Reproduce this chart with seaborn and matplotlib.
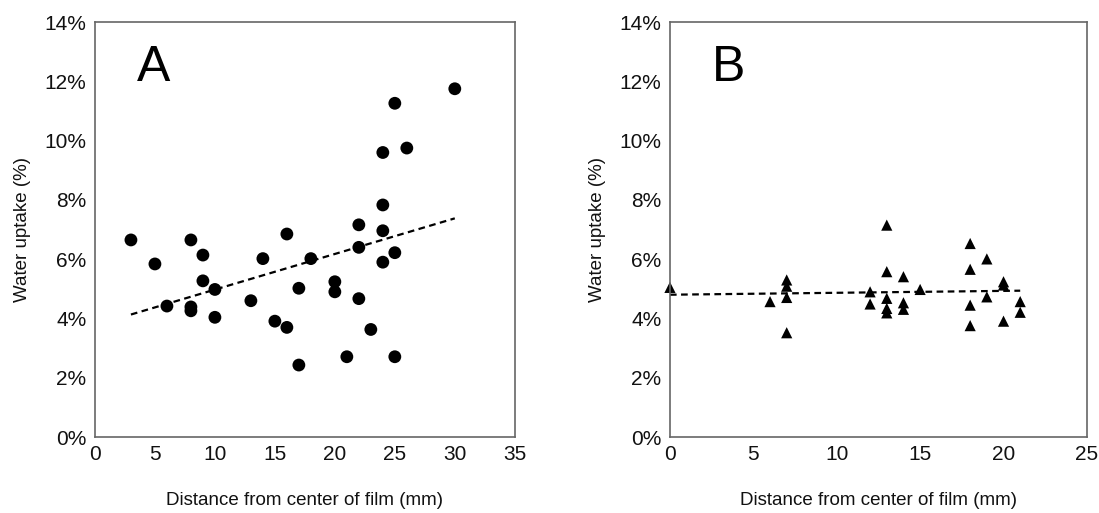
import numpy as np
import pandas as pd
import seaborn as sns
import matplotlib.pyplot as plt
from matplotlib.ticker import FuncFormatter

# Panel A: distance (mm) vs water uptake (%)
dist_a = [3, 5, 6, 8, 8, 8, 9, 9, 10, 10, 13, 14, 15, 16, 16, 17, 17, 18,
          20, 20, 21, 22, 22, 22, 23, 24, 24, 24, 24, 25, 25, 25, 26, 30]
uptake_a = [6.65, 5.84, 4.42, 6.65, 4.39, 4.26, 6.14, 5.27, 4.98, 4.04,
            4.60, 6.02, 3.91, 6.85, 3.70, 5.02, 2.43, 6.02,
            5.24, 4.90, 2.71, 7.16, 6.40, 4.67, 3.63, 9.60, 7.83, 6.96, 5.90,
            11.26, 6.22, 2.71, 9.75, 11.75]

# Panel B
dist_b = [0, 6, 7, 7, 7, 7, 12, 12, 13, 13, 13, 13, 13, 14, 14, 14, 15,
          18, 18, 18, 18, 19, 19, 20, 20, 20, 21, 21]
uptake_b = [5.05, 4.57, 5.30, 5.09, 4.71, 3.52, 4.90, 4.49, 7.15, 5.58,
            4.68, 4.34, 4.19, 5.41, 4.53, 4.31, 4.98,
            6.53, 5.66, 4.45, 3.76, 6.01, 4.73, 5.24, 5.13, 3.91, 4.57, 4.21]

df_a = pd.DataFrame({"dist": dist_a, "uptake": uptake_a})
df_b = pd.DataFrame({"dist": dist_b, "uptake": uptake_b})

sns.set_style("white")
plt.rcParams['font.family'] = ['Liberation Sans', 'DejaVu Sans']

fig = plt.figure(figsize=(10.99, 5.13), dpi=100)
ax_a = fig.add_axes([0.0864, 0.148, 0.382, 0.809])
ax_b = fig.add_axes([0.6096, 0.148, 0.3794, 0.809])

line_kws = dict(color="black", lw=1.6, ls=(0, (3, 2)))

sns.regplot(data=df_a, x="dist", y="uptake", ax=ax_a, ci=None,
            marker="o", color="black",
            scatter_kws=dict(s=85, edgecolor="none", alpha=1),
            line_kws=line_kws)
sns.regplot(data=df_b, x="dist", y="uptake", ax=ax_b, ci=None,
            marker="^", color="black",
            scatter_kws=dict(s=65, edgecolor="none", alpha=1, clip_on=False),
            line_kws=line_kws)

pct = FuncFormatter(lambda v, p: f"{v:.0f}%")
for ax, xmax, letter in [(ax_a, 35, "A"), (ax_b, 25, "B")]:
    ax.set_xlim(0, xmax)
    ax.set_ylim(0, 14)
    ax.set_xticks(range(0, xmax + 1, 5))
    ax.set_yticks(range(0, 15, 2))
    ax.yaxis.set_major_formatter(pct)
    ax.tick_params(length=0, labelsize=15, colors="#111111", pad=6)
    ax.set_xlabel("Distance from center of film (mm)", fontsize=13.5,
                  labelpad=20, color="#111111")
    ax.set_ylabel("Water uptake (%)", fontsize=13.5, labelpad=10,
                  color="#111111")
    for s in ax.spines.values():
        s.set_color("#666666")
        s.set_linewidth(1.2)
    ax.text(0.1, 0.945, letter, transform=ax.transAxes, fontsize=36,
            va="top", ha="left", color="black")

fig.savefig("out.png", dpi=100)
